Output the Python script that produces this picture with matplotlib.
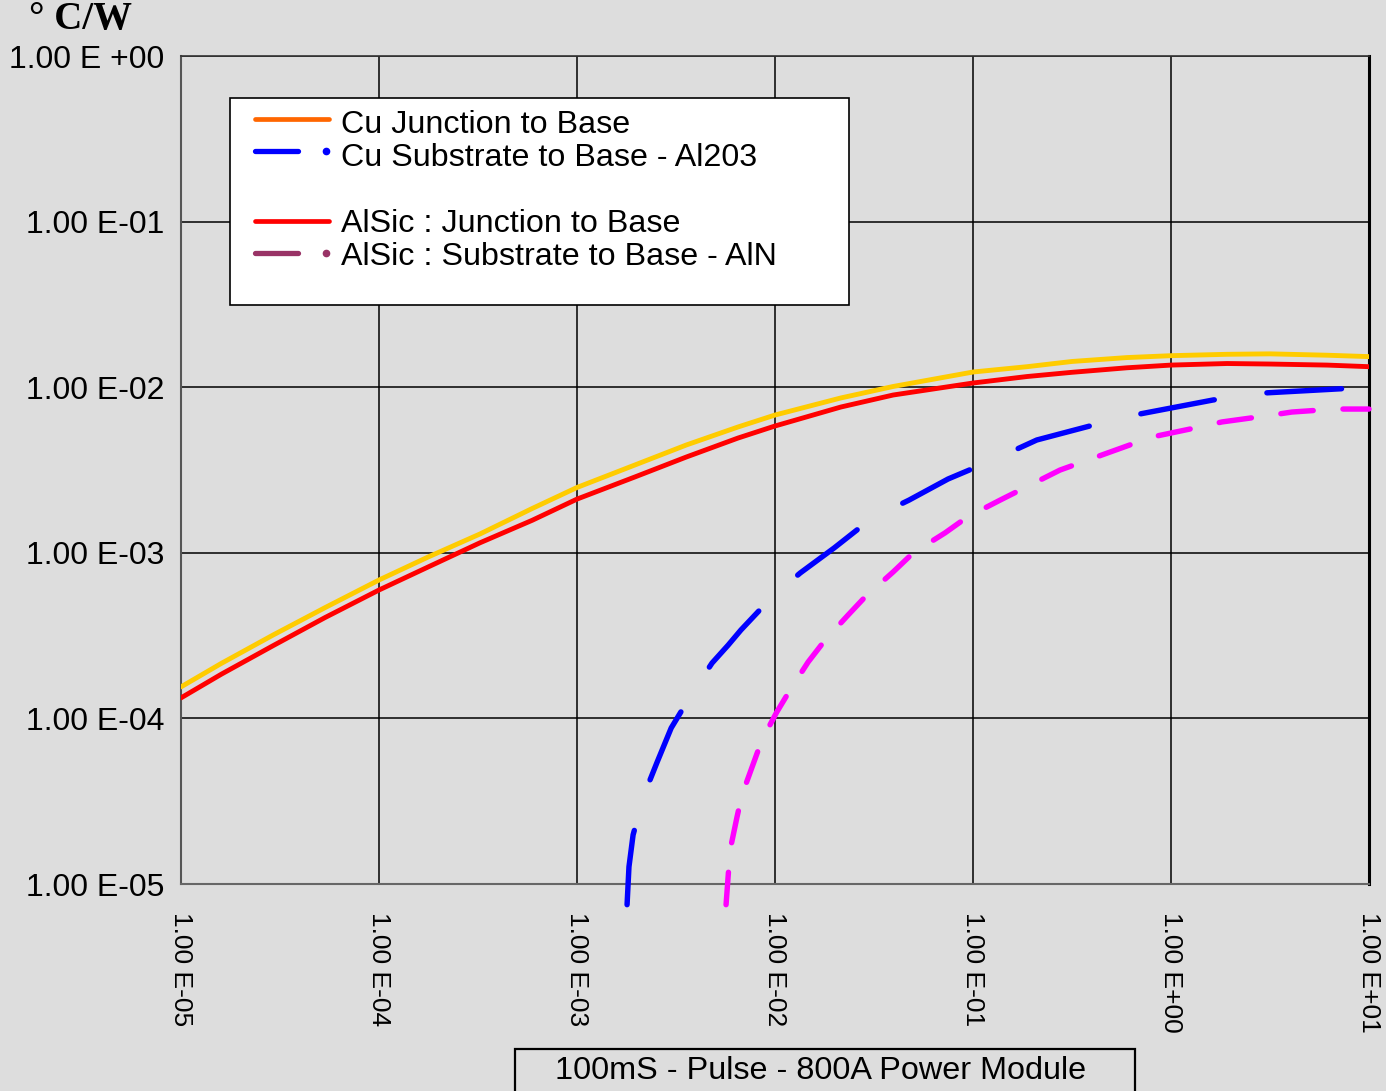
import matplotlib
matplotlib.use("Agg")
from matplotlib import pyplot as plt
from matplotlib.lines import Line2D
from matplotlib.patches import Rectangle

plt.rcParams['font.family'] = ['Liberation Sans', 'DejaVu Sans']

BG = '#dddddd'
W, H = 1386, 1091

# time (s) / thermal impedance (C/W)
cu_jb_t = [1e-5, 1.6e-5, 2.92e-5, 5.33e-5, 1e-4, 1.77e-4, 3.24e-4, 5.93e-4, 1e-3, 1.96e-3, 3.57e-3,
           6.5e-3, 1e-2, 2.15e-2, 3.95e-2, 0.1, 0.1875, 0.316, 0.6, 1.0, 1.92, 3.16, 6.14, 10.0]
cu_jb_z = [1.55e-4, 2.15e-4, 3.19e-4, 4.66e-4, 6.85e-4, 9.43e-4, 1.30e-3, 1.85e-3, 2.48e-3, 3.39e-3,
           4.48e-3, 5.75e-3, 6.79e-3, 8.61e-3, 1.01e-2, 1.235e-2, 1.33e-2, 1.43e-2, 1.51e-2, 1.55e-2,
           1.58e-2, 1.59e-2, 1.56e-2, 1.53e-2]

alsic_jb_t = [1e-5, 1.6e-5, 2.92e-5, 5.33e-5, 1e-4, 1.77e-4, 3.24e-4, 5.93e-4, 1e-3, 1.96e-3, 3.57e-3,
              6.5e-3, 1e-2, 2.15e-2, 3.95e-2, 0.1, 0.1875, 0.316, 0.6, 1.0, 1.92, 3.16, 6.14, 10.0]
alsic_jb_z = [1.33e-4, 1.85e-4, 2.75e-4, 4.06e-4, 5.96e-4, 8.21e-4, 1.15e-3, 1.57e-3, 2.11e-3, 2.87e-3,
              3.79e-3, 4.93e-3, 5.83e-3, 7.59e-3, 8.97e-3, 1.06e-2, 1.16e-2, 1.23e-2, 1.31e-2, 1.36e-2,
              1.39e-2, 1.38e-2, 1.36e-2, 1.33e-2]

cu_sb_t = [1.79e-3, 1.83e-3, 1.92e-3, 2.18e-3, 2.54e-3, 2.99e-3, 3.90e-3, 4.81e-3, 5.80e-3, 6.73e-3,
           9.66e-3, 1.34e-2, 1.99e-2, 3.09e-2, 4.75e-2, 7.48e-2, 0.126, 0.21, 0.327, 0.58, 1.63, 2.92, 8.5]
cu_sb_z = [7.5e-6, 1.27e-5, 1.98e-5, 3.45e-5, 5.45e-5, 8.75e-5, 1.48e-4, 2.16e-4, 2.77e-4, 3.42e-4,
           5.41e-4, 7.55e-4, 1.07e-3, 1.62e-3, 2.08e-3, 2.79e-3, 3.63e-3, 4.8e-3, 5.52e-3, 6.61e-3,
           8.37e-3, 9.22e-3, 9.89e-3]

alsic_sb_t = [5.66e-3, 5.93e-3, 6.43e-3, 6.81e-3, 8.59e-3, 1.02e-2, 1.19e-2, 1.47e-2, 1.79e-2, 2.34e-2,
              2.85e-2, 3.95e-2, 4.98e-2, 7.23e-2, 9.33e-2, 0.137, 0.275, 0.80, 1.32, 1.81, 2.99, 4.08,
              6.73, 10.0]
alsic_sb_z = [7.5e-6, 1.60e-5, 2.54e-5, 3.45e-5, 7.41e-5, 1.09e-4, 1.48e-4, 2.19e-4, 2.97e-4, 4.21e-4,
              5.41e-4, 7.66e-4, 9.97e-4, 1.32e-3, 1.64e-3, 2.08e-3, 3.16e-3, 5.0e-3, 5.67e-3, 6.17e-3,
              6.70e-3, 7.08e-3, 7.38e-3, 7.38e-3]

x_ticks = [1e-5, 1e-4, 1e-3, 1e-2, 1e-1, 1e0, 1e1]
x_labels = ['1.00 E-05', '1.00 E-04', '1.00 E-03', '1.00 E-02', '1.00 E-01', '1.00 E+00', '1.00 E+01']
y_ticks = [1e-5, 1e-4, 1e-3, 1e-2, 1e-1, 1e0]
y_labels = ['1.00 E-05', '1.00 E-04', '1.00 E-03', '1.00 E-02', '1.00 E-01', '1.00 E +00']

legend_labels = ['Cu Junction to Base', 'Cu Substrate to Base - Al203',
                 'AlSic : Junction to Base', 'AlSic : Substrate to Base - AlN']
legend_colors = ['#ff6600', '#0000ff', '#ff0000', '#993366']


def fx(px):
    return px / W


def fy(py):
    return 1 - py / H


fig = plt.figure(figsize=(W / 100, H / 100), dpi=100, facecolor=BG)
ax = fig.add_axes([fx(181), fy(884), 1188 / W, 828 / H])
ax.set_facecolor(BG)
ax.set_xscale('log')
ax.set_yscale('log')
ax.set_xlim(1e-5, 1e1)
ax.set_ylim(1e-5, 1e0)

ax.plot(cu_jb_t, cu_jb_z, color='#ffcc00', lw=3.5, solid_capstyle='round', solid_joinstyle='round', zorder=3)
ax.plot(alsic_jb_t, alsic_jb_z, color='#ff0000', lw=3.5, solid_capstyle='round', solid_joinstyle='round',
        zorder=3)
ax.plot(cu_sb_t, cu_sb_z, color='#0000ff', lw=3.9, dashes=(13.8, 9.8),
        dash_capstyle='round', dash_joinstyle='round', clip_on=False, zorder=3)
ax.plot(alsic_sb_t, alsic_sb_z, color='#ff00ff', lw=3.9, dashes=(6.0, 5.5),
        dash_capstyle='round', dash_joinstyle='round', clip_on=False, zorder=3)

ax.set_xticks(x_ticks)
ax.set_xticklabels(x_labels, rotation=270, fontsize=19)
ax.set_yticks(y_ticks)
ax.set_yticklabels(y_labels, fontsize=23)
ax.minorticks_off()
ax.tick_params(axis='x', length=0, pad=20)
ax.tick_params(axis='y', length=0, pad=12)

ax.set_axisbelow(True)
ax.grid(True, color='black', lw=1.1)

ax.spines['left'].set_color('#555555')
ax.spines['left'].set_linewidth(1.5)
ax.spines['bottom'].set_color('#666666')
ax.spines['bottom'].set_linewidth(1.5)
ax.spines['right'].set_color('black')
ax.spines['right'].set_linewidth(2.2)
ax.spines['top'].set_color('#333333')
ax.spines['top'].set_linewidth(1.2)

# legend box drawn by hand to match spacing
fig.add_artist(Rectangle((fx(230), fy(305)), (849 - 230) / W, (305 - 98) / H, transform=fig.transFigure,
                         facecolor='white', edgecolor='black', lw=1.2, zorder=5))
text_rows = [125, 158, 224, 257]
line_rows = [119, 151, 221, 253]
for i, (lab, col) in enumerate(zip(legend_labels, legend_colors)):
    yy = fy(line_rows[i])
    if i % 2 == 0:
        fig.add_artist(Line2D([fx(255), fx(329)], [yy, yy], transform=fig.transFigure, color=col,
                              lw=3.4, solid_capstyle='round', zorder=6))
    else:
        fig.add_artist(Line2D([fx(255), fx(298)], [yy, yy], transform=fig.transFigure, color=col,
                              lw=3.8, solid_capstyle='round', zorder=6))
        fig.add_artist(Line2D([fx(326)], [yy], transform=fig.transFigure, color=col, marker='o',
                              markersize=4.5, lw=0, zorder=6))
    fig.text(fx(341), fy(text_rows[i]), lab, fontsize=23.2, va='center', ha='left', zorder=7)

fig.text(fx(29), fy(19), '° C/W', family=['Liberation Serif', 'DejaVu Serif'], fontweight='bold',
         fontsize=28, va='center', ha='left')

fig.add_artist(Rectangle((fx(515), -0.02), (1135 - 515) / W, fy(1049) + 0.02, transform=fig.transFigure,
                         facecolor=BG, edgecolor='black', lw=1.6, clip_on=False))
fig.text(fx(821), fy(1071), '100mS - Pulse - 800A Power Module', fontsize=23.3, va='center', ha='center')

fig.savefig('out.png', dpi=100, facecolor=BG)
